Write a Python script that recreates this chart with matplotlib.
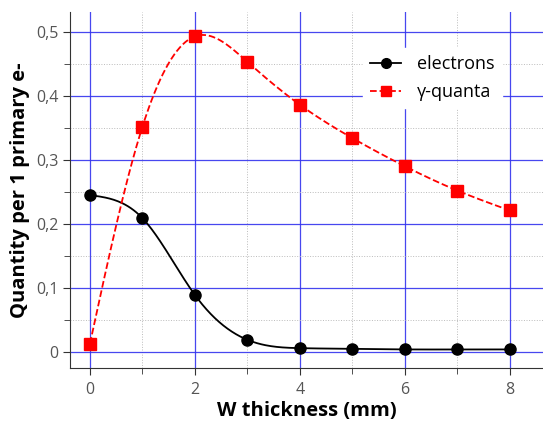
import numpy as np
import matplotlib.pyplot as plt
from matplotlib.ticker import MultipleLocator, FuncFormatter

plt.rcParams['font.family'] = ['Open Sans', 'DejaVu Sans']

thickness = [0, 1, 2, 3, 4, 5, 6, 7, 8]
electrons = [0.245, 0.209, 0.089, 0.019, 0.006, 0.005, 0.004, 0.004, 0.004]
gamma = [0.013, 0.352, 0.493, 0.453, 0.386, 0.334, 0.290, 0.252, 0.221]


def spline(x, y, n=300):
    # natural cubic spline through the points
    x = np.asarray(x, float)
    y = np.asarray(y, float)
    k = len(x)
    h = np.diff(x)
    A = np.zeros((k, k))
    b = np.zeros(k)
    A[0, 0] = A[-1, -1] = 1
    for i in range(1, k - 1):
        A[i, i - 1] = h[i - 1]
        A[i, i] = 2 * (h[i - 1] + h[i])
        A[i, i + 1] = h[i]
        b[i] = 6 * ((y[i + 1] - y[i]) / h[i] - (y[i] - y[i - 1]) / h[i - 1])
    m = np.linalg.solve(A, b)
    xs = np.linspace(x[0], x[-1], n)
    idx = np.clip(np.searchsorted(x, xs) - 1, 0, k - 2)
    t0 = x[idx]
    t1 = x[idx + 1]
    hh = t1 - t0
    ys = (m[idx] * (t1 - xs) ** 3 / (6 * hh) + m[idx + 1] * (xs - t0) ** 3 / (6 * hh)
          + (y[idx] / hh - m[idx] * hh / 6) * (t1 - xs)
          + (y[idx + 1] / hh - m[idx + 1] * hh / 6) * (xs - t0))
    return xs, ys


fig = plt.figure(figsize=(5.43, 4.21), dpi=100)
ax = fig.add_axes([70 / 543, 1 - 368 / 421, 473 / 543, 356 / 421])

xe, ye = spline(thickness, electrons)
xg, yg = spline(thickness, gamma)
ax.plot(xe, ye, '-', color='black', lw=1.3, zorder=3)
ax.plot(xg, yg, '--', color='red', lw=1.3, zorder=3)
ax.plot(thickness, electrons, 'o', color='black', ms=8, zorder=4)
ax.plot(thickness, gamma, 's', color='red', ms=8.5, zorder=4)
ax.plot([], [], '-o', color='black', lw=1.3, ms=7, label='electrons')
ax.plot([], [], '--s', color='red', lw=1.3, ms=7, label='γ-quanta')

ax.set_xlim(-0.38, 8.63)
ax.set_ylim(-0.025, 0.531)
ax.xaxis.set_major_locator(MultipleLocator(2))
ax.xaxis.set_minor_locator(MultipleLocator(1))
ax.yaxis.set_major_locator(MultipleLocator(0.1))
ax.yaxis.set_minor_locator(MultipleLocator(0.05))
ax.yaxis.set_major_formatter(FuncFormatter(lambda v, p: '0' if abs(v) < 1e-9 else f'{v:.1f}'.replace('.', ',')))

ax.grid(which='major', color='#3333ee', lw=0.9, alpha=0.9)
ax.grid(which='minor', color='#bbbbbb', lw=0.7, ls=':')
ax.set_axisbelow(True)

for s in ['top', 'right']:
    ax.spines[s].set_visible(False)
for s in ['left', 'bottom']:
    ax.spines[s].set_color('#333333')
ax.tick_params(which='both', colors='#333333', labelcolor='#555555', labelsize=11.5)
ax.tick_params(which='major', length=5)
ax.tick_params(which='minor', length=4)
ax.tick_params(axis='x', which='major', pad=5)

ax.set_xlabel('W thickness (mm)', fontsize=14.5, fontweight='bold', labelpad=2)
ax.set_ylabel('Quantity per 1 primary e-', fontsize=14.5, fontweight='bold', labelpad=4)

leg = ax.legend(loc='upper left', bbox_to_anchor=((354 - 70) / 473, (368 - 39) / 356), fontsize=13,
                frameon=True, fancybox=False, edgecolor='white', framealpha=1,
                handlelength=1.7, handletextpad=0.9, borderpad=0.4, labelspacing=0.55)

fig.savefig('out.png', dpi=100)
